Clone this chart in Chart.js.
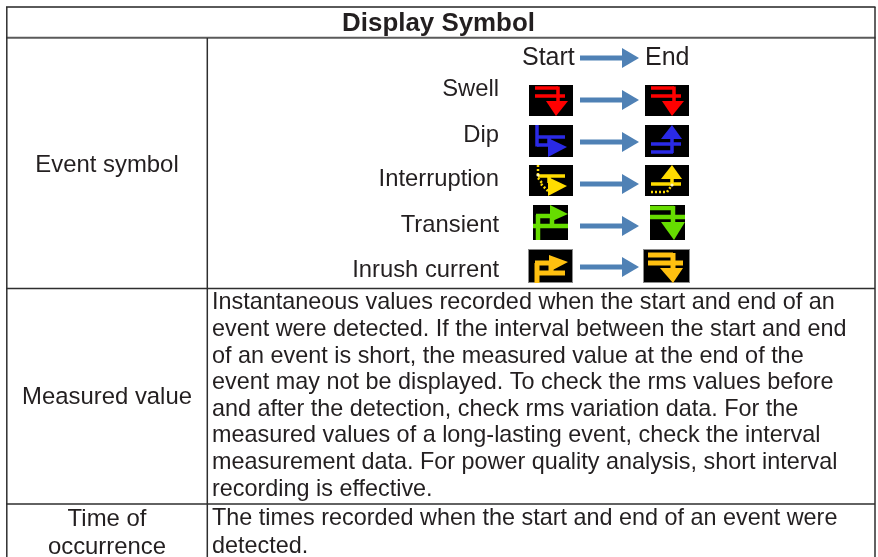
<!DOCTYPE html>
<html><head><meta charset="utf-8">
<style>html,body{margin:0;padding:0;background:#fff}#w{width:878px;height:557px;position:relative}</style>
<script src="https://cdn.jsdelivr.net/npm/chart.js@4"></script></head>
<body><div id="w"><canvas id="c"></canvas></div>
<script>
const title = ["Display Symbol"];
const rowHeaders = ["Event symbol", "Measured value", "Time of", "occurrence"];
const eventNames = ["Swell", "Dip", "Interruption", "Transient", "Inrush current"];
const flowLabels = ["Start", "End"];
const measuredLines = [
 "Instantaneous values recorded when the start and end of an",
 "event were detected. If the interval between the start and end",
 "of an event is short, the measured value at the end of the",
 "event may not be displayed. To check the rms values before",
 "and after the detection, check rms variation data. For the",
 "measured values of a long-lasting event, check the interval",
 "measurement data. For power quality analysis, short interval",
 "recording is effective."];
const timeLines = ["The times recorded when the start and end of an event were","detected."];

const FONT='"Liberation Sans", Arial, sans-serif', INK='#231f20', ARROW='#4f81b5';
const RED='#ff0000',BLUE='#2a2ae6',YEL='#ffdc00',GRN='#66dd00',ORG='#ffc010';

function seg(g,l,X,Y){g.beginPath();g.moveTo(X(l[0]),Y(l[1]));g.lineTo(X(l[2]),Y(l[3]));g.stroke();}
function arrow(g,a,b,y){g.fillStyle=ARROW;g.fillRect(a,y-2.5,b-a-17,5);g.beginPath();g.moveTo(b-17,y-10);g.lineTo(b,y);g.lineTo(b-17,y+10);g.closePath();g.fill();}

function icon(g,x,y,w,h,col,lines,tri,opt){
  opt=opt||{};
  g.save();
  g.fillStyle='#000';g.fillRect(x,y,w,h);
  if(opt.border){g.strokeStyle='#8a8a8a';g.lineWidth=1;g.strokeRect(x+.5,y+.5,w-1,h-1);}
  g.beginPath();g.rect(x,y,w,h);g.clip();
  g.filter='blur(0.5px)';
  g.strokeStyle=col;g.fillStyle=col;g.lineWidth=opt.lw||3.5;g.lineCap='butt';
  lines.forEach(l=>{g.beginPath();g.moveTo(x+l[0],y+l[1]);g.lineTo(x+l[2],y+l[3]);g.stroke();});
  g.beginPath();g.moveTo(x+tri[0],y+tri[1]);g.lineTo(x+tri[2],y+tri[3]);g.lineTo(x+tri[4],y+tri[5]);g.closePath();g.fill();
  if(opt.dash){g.lineWidth=2.5;g.setLineDash([2,2]);opt.dash.forEach(l=>{g.beginPath();g.moveTo(x+l[0],y+l[1]);g.lineTo(x+l[2],y+l[3]);g.stroke();});g.setLineDash([]);}
  if(opt.dot){g.fillStyle='#fff6c0';g.beginPath();g.arc(x+opt.dot[0],y+opt.dot[1],1.6,0,7);g.fill();}
  g.restore();
}

const tablePlugin = {id:'table', afterDraw(chart){
  const g=chart.ctx, X=v=>chart.scales.x.getPixelForValue(v), Y=v=>chart.scales.y.getPixelForValue(v);
  const txt=(s,x,y,al,f)=>{g.font=f;g.fillStyle=INK;g.textAlign=al;g.textBaseline='middle';g.fillText(s,X(x),Y(y));};
  const BODY='23.4px '+FONT, HEAD='23.9px '+FONT;
  g.save();
  g.strokeStyle='#5a5a5a';g.lineWidth=2;
  [[6,7,875.5,7],[6,37.7,875.5,37.7]].forEach(l=>seg(g,l,X,Y));
  g.strokeStyle='#2e2e2e';g.lineWidth=1.5;
  [[6,288.5,875,288.5],[6,504,875,504],[6.8,7,6.8,557],[875,7,875,557],[207.3,38,207.3,557]].forEach(l=>seg(g,l,X,Y));
  txt(title[0],438.5,24,'center','bold 25.9px '+FONT);
  txt(rowHeaders[0],107,165,'center',HEAD);
  txt(rowHeaders[1],107,397,'center',HEAD);
  txt(rowHeaders[2],107,519,'center',HEAD);
  txt(rowHeaders[3],107,547,'center',HEAD);
  measuredLines.forEach((s,i)=>txt(s,212,303+i*26.6,'left',BODY));
  timeLines.forEach((s,i)=>txt(s,212,519+i*28,'left',BODY));
  txt(flowLabels[0],522,58,'left','25px '+FONT);
  txt(flowLabels[1],645,58,'left','25px '+FONT);
  const ey=[89.5,135.5,179.5,225.5,270.5];
  eventNames.forEach((s,i)=>txt(s,499,ey[i],'right','23.8px '+FONT));
  [58,100,142,184,226,267].forEach(y=>arrow(g,X(580),X(639),Y(y)));

  const swellL=[[6,3,29,3],[6,11,36,11],[29,1.5,29,17]], swellT=[17,16,39,16,27,31];
  icon(g,X(529),Y(85),44,31,RED,swellL,swellT);
  icon(g,X(645),Y(85),44,31,RED,swellL,swellT);
  const dipSL=[[8,0,8,21.5],[8,12,36,12],[8,20,24,20],[20,12,20,20]], dipST=[19,13,38,22,19,32];
  icon(g,X(529),Y(125),44,32,BLUE,dipSL,dipST);
  const dipEL=[[6,19,36,19],[6,27,28,27],[27,12,27,28]], dipET=[16,14,37,14,27,0];
  icon(g,X(645),Y(125),44,32,BLUE,dipEL,dipET);
  icon(g,X(529),Y(165),44,31,YEL,[[9,11,36,11],[20,11,20,18]],[19,12,38,21,19,31],
       {dash:[[9,0,9,11],[9,13,13,18],[12,19,19,26]],dot:[9,10]});
  icon(g,X(645),Y(165),44,31,YEL,[[6,19,36,19],[27,12,27,19]],[16,14,37,14,27,0],
       {dash:[[6,27,22,27],[22,27,27,20]],dot:[27,20]});
  const trSL=[[5,35,5,10],[3,11,22,11],[19,11,19,20],[0,21,35,21]], trST=[17,0,35,9,17,17];
  icon(g,X(533),Y(205),35,35,GRN,trSL,trST,{lw:4.5});
  const trEL=[[0,3,24,3],[0,12,35,12],[23,1,23,18]], trET=[11,17,35,17,24,35];
  icon(g,X(650),Y(205),35,35,GRN,trEL,trET,{lw:4.5});
  const inSL=[[9,36,9,14],[7,14,24,14],[23,14,23,24],[7,24,37,24]], inST=[21,6,40,13,21,23];
  icon(g,X(528),Y(249),45,34,ORG,inSL,inST,{lw:5,border:true});
  const inEL=[[5,6,30,6],[5,14,40,14],[30,4,30,20]], inET=[17,19,40,19,30,34];
  icon(g,X(643),Y(249),47,34,ORG,inEL,inET,{lw:5,border:true});
  g.restore();
}};

new Chart(document.getElementById('c'),{type:'scatter',data:{datasets:[{data:[]}]},plugins:[tablePlugin],
 options:{responsive:true,maintainAspectRatio:false,animation:false,layout:{padding:0},
 plugins:{legend:{display:false},tooltip:{enabled:false}},
 scales:{x:{type:'linear',display:false,min:0,max:878},y:{type:'linear',display:false,min:0,max:557,reverse:true}}}});
</script></body></html>
